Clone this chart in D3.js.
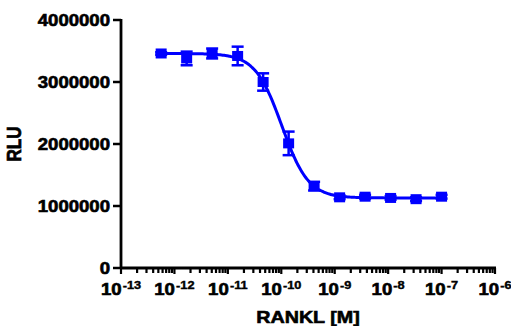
<!DOCTYPE html>
<html><head><meta charset="utf-8">
<script src="https://cdn.jsdelivr.net/npm/d3@7"></script>
<style>body{margin:0;background:#fff}svg{display:block}text{font-family:Arial,"Liberation Sans",sans-serif;font-weight:bold;stroke:#000;stroke-width:0.6px}</style>
</head><body>
<script>
// data: RANKL concentrations (M), 3-fold dilution series
const concentrations = [5.645e-13,1.694e-12,5.081e-12,1.524e-11,4.572e-11,1.372e-10,4.115e-10,1.235e-9,3.704e-9,1.111e-8,3.333e-8,1e-7];
const rluMean = [3460000,3380000,3460000,3420000,3000000,2010000,1320000,1140000,1150000,1130000,1110000,1150000];
const rluErr  = [20000,110000,80000,150000,140000,190000,70000,30000,30000,30000,30000,30000];
// four-parameter logistic fit parameters
const fitTop = 3460000, fitBottom = 1130000, fitLogIC50 = -9.99, fitHill = 1.75;
const yTicks = [0,1000000,2000000,3000000,4000000];
const xDecades = [-13,-12,-11,-10,-9,-8,-7,-6];

const W=511,H=326, SX=1.16;
const svg=d3.select("body").append("svg").attr("width",W).attr("height",H);
const x=d3.scaleLog().domain([1e-13,1e-6]).range([121,495]);
const y=d3.scaleLinear().domain([0,4000000]).range([268,20]);
const blue="#0000ff";

// y axis
svg.append("line").attr("x1",121).attr("x2",121).attr("y1",y(4000000)-1).attr("y2",y(0)+1).attr("stroke","#000").attr("stroke-width",2.8);
yTicks.forEach(v=>{
  svg.append("line").attr("x1",113).attr("x2",121).attr("y1",y(v)).attr("y2",y(v)).attr("stroke","#000").attr("stroke-width",2.5);
  svg.append("text").attr("transform",`translate(110,${y(v)+5.5}) scale(${SX},1)`).attr("text-anchor","end").attr("font-size",16).text(d3.format("d")(v));
});
// x axis
svg.append("line").attr("x1",120).attr("x2",496).attr("y1",268).attr("y2",268).attr("stroke","#000").attr("stroke-width",2.8);
xDecades.forEach((d,i)=>{
  const xv=Math.pow(10,d);
  svg.append("line").attr("x1",x(xv)).attr("x2",x(xv)).attr("y1",268).attr("y2",274).attr("stroke","#000").attr("stroke-width",2.2);
  if(i<xDecades.length-1){
    for(let m=2;m<=9;m++){
      const xm=x(m*xv);
      svg.append("line").attr("x1",xm).attr("x2",xm).attr("y1",268).attr("y2",273).attr("stroke","#000").attr("stroke-width",2.2);
    }
  }
  const t=svg.append("text").attr("transform",`translate(${x(xv)},295) scale(${SX},1)`).attr("text-anchor","middle").attr("font-size",16);
  t.append("tspan").text("10");
  t.append("tspan").attr("dy",-6).attr("dx",1).attr("font-size",11).attr("stroke-width",0.4).text(String(d));
});
// titles
svg.append("text").attr("transform",`translate(308,323) scale(${SX},1)`).attr("text-anchor","middle").attr("font-size",17).text("RANKL [M]");
svg.append("text").attr("transform",`translate(21,144) rotate(-90) scale(1,${SX})`).attr("text-anchor","middle").attr("font-size",17).text("RLU");

// fitted curve
const lo=Math.log10(concentrations[0]), hi=Math.log10(concentrations[concentrations.length-1]);
const curvePts=d3.range(0,201).map(i=>{const lx=lo+(hi-lo)*i/200; return [Math.pow(10,lx), fitBottom+(fitTop-fitBottom)/(1+Math.pow(10,(lx-fitLogIC50)*fitHill))];});
svg.append("path").attr("d",d3.line().x(d=>x(d[0])).y(d=>y(d[1])).curve(d3.curveBasis)(curvePts)).attr("fill","none").attr("stroke",blue).attr("stroke-width",3);

// error bars
concentrations.forEach((c,i)=>{
  const cx=x(c), y1=y(rluMean[i]+rluErr[i]), y2=y(rluMean[i]-rluErr[i]);
  svg.append("line").attr("x1",cx).attr("x2",cx).attr("y1",y1).attr("y2",y2).attr("stroke",blue).attr("stroke-width",2.5);
  [y1,y2].forEach(yy=>svg.append("line").attr("x1",cx-6).attr("x2",cx+6).attr("y1",yy).attr("y2",yy).attr("stroke",blue).attr("stroke-width",2.5));
});
// markers
svg.selectAll("rect.pt").data(concentrations).enter().append("rect")
  .attr("x",d=>x(d)-5.5).attr("y",(d,i)=>y(rluMean[i])-5).attr("width",11).attr("height",10).attr("fill",blue);
</script>
</body></html>
